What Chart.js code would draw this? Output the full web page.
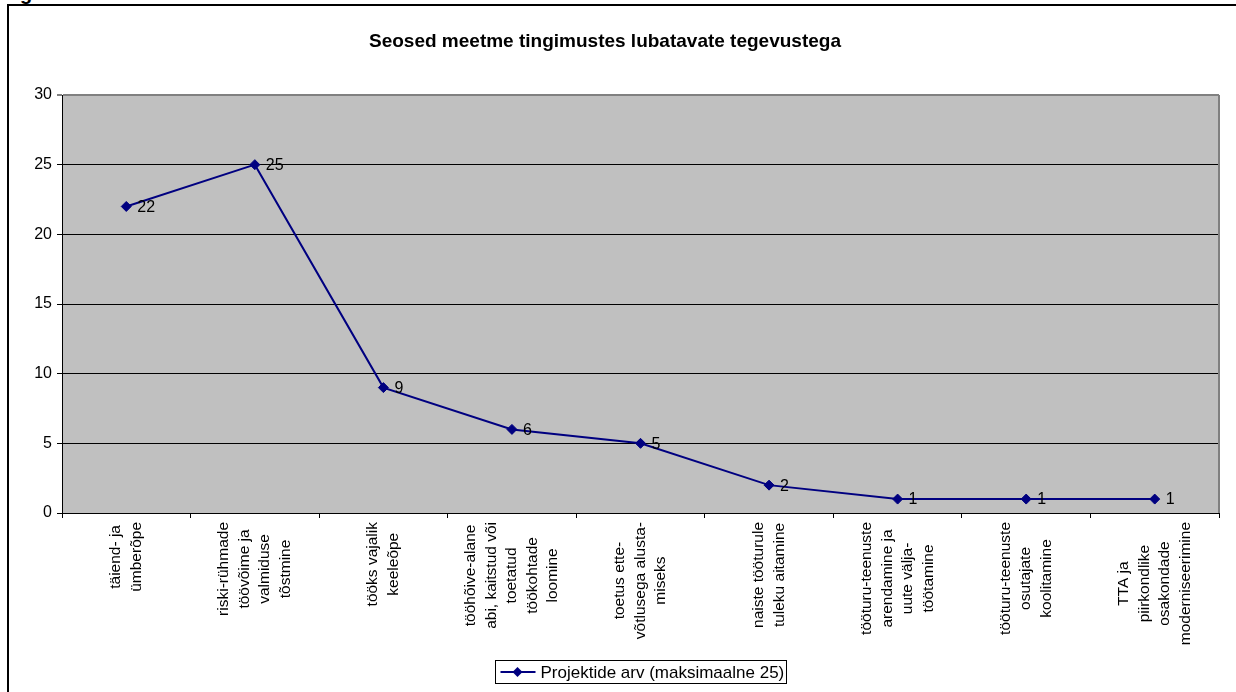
<!DOCTYPE html>
<html>
<head>
<meta charset="utf-8">
<title>Seosed meetme tingimustes lubatavate tegevustega</title>
<script src="https://cdn.jsdelivr.net/npm/chart.js@4.4.1/dist/chart.umd.min.js"></script>
<style>
  html, body { margin: 0; padding: 0; background: #fff; overflow: hidden; }
  #frame { position: absolute; left: 7px; top: 4px; width: 1240px; height: 700px;
           border-left: 2px solid #000; border-top: 2px solid #000; }
  #cut { position: absolute; left: 20px; top: -18px; line-height: 20px;
         font: bold 20px "Liberation Sans", Arial, sans-serif; }
  #chart { position: absolute; left: 0; top: 0; }
</style>
</head>
<body>
<div id="frame"></div>
<div id="cut">g</div>
<canvas id="chart" width="1236" height="692"></canvas>
<script>
const chartTitle = 'Seosed meetme tingimustes lubatavate tegevustega';
const seriesName = 'Projektide arv (maksimaalne 25)';

// category labels, one array of lines per category
const categories = [
  ['täiend- ja', 'ümberõpe'],
  ['riski-rühmade', 'töövõime ja', 'valmiduse', 'tõstmine'],
  ['tööks vajalik', 'keeleõpe'],
  ['tööhõive-alane', 'abi, kaitstud või', 'toetatud', 'töökohtade', 'loomine'],
  ['toetus ette-', 'võtlusega alusta-', 'miseks'],
  ['naiste tööturule', 'tuleku aitamine'],
  ['tööturu-teenuste', 'arendamine ja', 'uute välja-', 'töötamine'],
  ['tööturu-teenuste', 'osutajate', 'koolitamine'],
  ['TTA ja', 'piirkondlike', 'osakondade', 'moderniseerimine']
];
const projectCounts = [22, 25, 9, 6, 5, 2, 1, 1, 1];

const yMin = 0;
const yMax = 30;
const yStep = 5;

const FONT = '"Liberation Sans", Arial, sans-serif';
const NAVY = '#000080';

// grey plot background and grey right edge
const plotArea = {
  id: 'plotArea',
  beforeDraw(chart) {
    const { ctx, chartArea: a } = chart;
    ctx.save();
    ctx.fillStyle = '#c0c0c0';
    ctx.fillRect(a.left, a.top, a.right - a.left, a.bottom - a.top);
    ctx.restore();
  },
  beforeDatasetsDraw(chart) {
    const { ctx, chartArea: a } = chart;
    ctx.save();
    ctx.strokeStyle = '#808080';
    ctx.lineWidth = 2;
    ctx.beginPath();
    ctx.moveTo(a.right, a.top);
    ctx.lineTo(a.right, a.bottom);
    ctx.stroke();
    ctx.restore();
  }
};

// title, x labels (rotated, lines centred), value labels and legend
const textBits = {
  id: 'textBits',
  afterDatasetsDraw(chart) {
    const { ctx } = chart;
    const meta = chart.getDatasetMeta(0);
    const values = chart.data.datasets[0].data;
    ctx.save();
    ctx.font = '16px ' + FONT;
    ctx.fillStyle = '#000';
    ctx.textAlign = 'left';
    ctx.textBaseline = 'middle';
    meta.data.forEach((pt, i) => {
      ctx.fillText(String(values[i]), pt.x + 11, pt.y + 1);
    });
    ctx.restore();
  },
  afterDraw(chart) {
    const { ctx, chartArea: a } = chart;
    const xs = chart.scales.x;

    ctx.save();
    ctx.fillStyle = '#000';
    ctx.font = 'bold 19px ' + FONT;
    ctx.textAlign = 'center';
    ctx.textBaseline = 'middle';
    ctx.fillText(chartTitle, 605, 42);

    ctx.font = '15.5px ' + FONT;
    chart.data.labels.forEach((lines, i) => {
      const px = xs.getPixelForValue(i);
      const longest = Math.max(...lines.map(l => ctx.measureText(l).width));
      ctx.save();
      ctx.translate(px, xs.top + 9 + longest / 2);
      ctx.rotate(-Math.PI / 2);
      lines.forEach((line, k) => {
        ctx.fillText(line, 0, (k - (lines.length - 1) / 2) * 20.5);
      });
      ctx.restore();
    });

    // legend
    ctx.font = '17px ' + FONT;
    const tw = ctx.measureText(seriesName).width;
    const w = Math.round(tw + 47);
    const h = 23;
    const left = Math.round((a.left + a.right) / 2 - w / 2) + 0.5;
    const top = 660.5;
    const mid = top + h / 2;
    ctx.strokeStyle = '#000';
    ctx.lineWidth = 1;
    ctx.strokeRect(left, top, w, h);
    ctx.strokeStyle = NAVY;
    ctx.lineWidth = 2;
    ctx.beginPath();
    ctx.moveTo(left + 5, mid);
    ctx.lineTo(left + 40, mid);
    ctx.stroke();
    ctx.fillStyle = NAVY;
    ctx.beginPath();
    ctx.moveTo(left + 22, mid - 5);
    ctx.lineTo(left + 27, mid);
    ctx.lineTo(left + 22, mid + 5);
    ctx.lineTo(left + 17, mid);
    ctx.closePath();
    ctx.fill();
    ctx.fillStyle = '#000';
    ctx.textAlign = 'left';
    ctx.fillText(seriesName, left + 45, mid + 1);
    ctx.restore();
  }
};

new Chart(document.getElementById('chart'), {
  type: 'line',
  data: {
    labels: categories,
    datasets: [{
      label: seriesName,
      data: projectCounts,
      borderColor: NAVY,
      backgroundColor: NAVY,
      borderWidth: 2,
      tension: 0,
      fill: false,
      pointStyle: 'rectRot',
      pointRadius: 5,
      pointBackgroundColor: NAVY,
      pointBorderColor: NAVY,
      pointBorderWidth: 1
    }]
  },
  options: {
    responsive: false,
    animation: false,
    devicePixelRatio: 1,
    layout: { padding: { top: 95, right: 17, left: 0, bottom: 0 } },
    plugins: {
      legend: { display: false },
      title: { display: false },
      tooltip: { enabled: false }
    },
    scales: {
      x: {
        offset: true,
        grid: { offset: true, drawOnChartArea: false, drawTicks: true, tickLength: 5, color: '#000' },
        border: { color: '#000', width: 1 },
        ticks: { display: false },
        afterFit: s => { s.height = 179; }
      },
      y: {
        min: yMin,
        max: yMax,
        ticks: { stepSize: yStep, color: '#000', padding: 5, font: { family: FONT, size: 16 } },
        grid: {
          tickLength: 5,
          color: c => (c.tick && c.tick.value === yMax ? '#808080' : '#000'),
          lineWidth: c => (c.tick && c.tick.value === yMax ? 2 : 1)
        },
        border: { color: '#000', width: 1 },
        afterFit: s => { s.width = 62; }
      }
    }
  },
  plugins: [plotArea, textBits]
});
</script>
</body>
</html>
